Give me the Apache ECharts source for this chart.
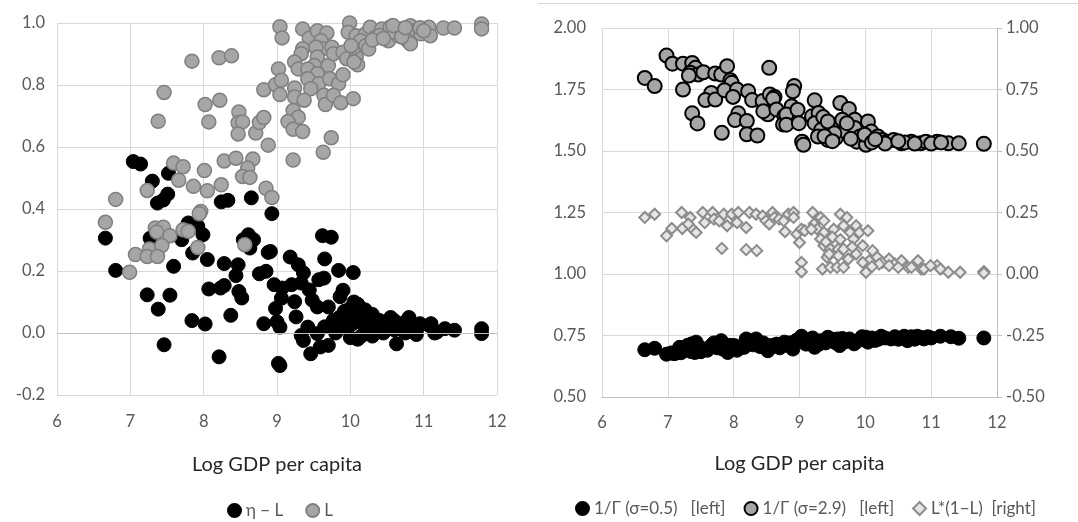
<!DOCTYPE html>
<html>
<head>
<meta charset="utf-8">
<script src="https://cdn.jsdelivr.net/npm/echarts@6/dist/echarts.min.js"></script>
<style>
html,body{margin:0;padding:0;background:#fff;}
#c{width:1078px;height:522px;}
</style>
</head>
<body>
<div id="c"></div>
<script>
// ---- Data (x = Log GDP per capita) ----
var xTicks = [6, 7, 8, 9, 10, 11, 12];
var leftTicks = ['-0.2', '0.0', '0.2', '0.4', '0.6', '0.8', '1.0'];

// Left panel: eta - L
var etaMinusL = [
[7.04,0.553],[7.14,0.545],[7.52,0.515],[7.30,0.49],[7.51,0.448],[7.45,0.429],[8.33,0.428],[8.65,0.436],
[7.37,0.419],[8.24,0.423],[8.93,0.385],[7.79,0.355],[7.92,0.344],[7.99,0.317],[7.70,0.301],[7.85,0.258],
[6.66,0.306],[7.27,0.306],[8.61,0.317],[8.68,0.301],[8.63,0.274],[8.54,0.301],[8.88,0.260],[8.05,0.237],
[8.28,0.224],[8.47,0.220],[8.44,0.185],[8.76,0.191],[8.85,0.199],[6.80,0.202],[7.59,0.215],[8.07,0.142],
[8.23,0.145],[8.28,0.153],[8.48,0.134],[8.52,0.113],[7.23,0.123],[7.54,0.122],[7.38,0.077],[8.37,0.057],
[7.84,0.040],[8.02,0.029],[8.82,0.030],[7.46,-0.038],[8.21,-0.077],
[9.62,0.314],[9.74,0.309],[8.91,0.263],[9.18,0.245],[9.29,0.220],[9.36,0.194],[9.65,0.239],[9.84,0.202],
[10.04,0.195],[9.57,0.172],[9.64,0.177],[8.96,0.156],[9.07,0.145],[9.20,0.156],[9.33,0.161],[9.44,0.139],
[9.90,0.138],[9.86,0.117],[9.06,0.112],[9.24,0.101],[9.48,0.106],[9.55,0.084],[9.70,0.084],[8.98,0.079],
[10.10,0.093],[9.26,0.052],[9.00,0.036],[9.04,0.019],[9.42,0.019],[9.33,-0.008],[9.36,-0.024],[9.55,-0.002],
[9.59,-0.045],[9.70,-0.040],[9.46,-0.067],[9.04,-0.105],[9.02,-0.098],
[9.77,0.041],[9.90,0.019],[10.03,0.030],[10.16,0.052],[10.25,0.009],[10.38,0.030],[10.52,0.041],[10.65,0.019],
[10.63,-0.035],[10.78,0.041],[10.91,0.014],[11.07,0.025],[11.18,0.003],[11.29,0.014],[11.42,0.009],[11.79,0.014],
[11.79,-0.002],[9.65,0.020],[9.80,0.000],[9.85,0.050],[9.95,0.060],[10.00,0.080],[10.05,0.100],[10.10,0.050],
[10.15,-0.010],[10.20,0.020],[10.25,0.040],[10.30,-0.010],[10.35,0.020],[10.40,0.040],[10.45,0.000],[10.50,0.020],
[10.55,0.050],[10.60,0.010],[10.70,0.030],[10.75,0.000],[10.80,0.050],[10.85,0.010],[10.90,-0.005],[11.10,0.030],
[11.15,0.000],[10.10,-0.020],[10.30,0.060],[10.00,-0.015],[9.92,0.070],[10.20,0.075],[10.60,0.040],[10.95,0.030]
];

// Left panel: L
var L = [
[7.84,0.877],[8.21,0.888],[8.38,0.894],[7.46,0.776],[8.82,0.785],[8.02,0.737],[8.22,0.751],[7.38,0.683],
[8.07,0.681],[8.48,0.713],[8.47,0.678],[8.53,0.681],[8.47,0.642],[8.71,0.645],[8.76,0.679],[8.82,0.695],
[8.88,0.606],[7.59,0.548],[7.72,0.536],[8.01,0.524],[8.28,0.555],[8.44,0.564],[8.67,0.561],[8.60,0.532],
[8.53,0.505],[8.63,0.502],[7.66,0.493],[7.86,0.473],[8.05,0.459],[8.24,0.478],[7.23,0.460],[6.80,0.431],
[8.85,0.467],[7.96,0.392],[7.94,0.385],[6.66,0.357],[7.34,0.339],[7.45,0.341],[7.36,0.326],[7.54,0.314],
[7.72,0.333],[7.79,0.328],[8.56,0.285],[7.92,0.276],[7.26,0.271],[7.43,0.282],[7.07,0.253],[7.23,0.247],
[7.37,0.247],[6.99,0.196],[8.93,0.437],
[9.04,0.988],[9.07,0.952],[9.35,0.981],[9.44,0.951],[9.55,0.975],[9.68,0.968],[9.60,0.943],[9.62,0.917],
[9.35,0.917],[9.33,0.901],[9.53,0.922],[9.55,0.890],[9.51,0.863],[9.70,0.863],[9.75,0.922],[9.77,0.901],
[9.24,0.874],[9.29,0.852],[9.42,0.852],[9.55,0.836],[9.42,0.820],[9.57,0.804],[9.46,0.788],[9.90,0.906],
[9.95,0.885],[10.08,0.891],[10.10,0.865],[9.72,0.820],[9.84,0.804],[9.90,0.833],[9.02,0.852],[8.98,0.801],
[9.06,0.815],[9.04,0.769],[9.24,0.790],[9.24,0.761],[9.37,0.751],[9.64,0.767],[9.66,0.737],[9.77,0.767],
[9.87,0.743],[10.04,0.756],[9.22,0.718],[9.29,0.696],[9.15,0.682],[9.22,0.657],[9.35,0.650],[9.74,0.630],
[9.63,0.583],[9.22,0.558],
[9.99,1.000],[9.97,0.970],[10.08,0.959],[10.21,0.965],[10.27,0.986],[10.34,0.954],[10.43,0.981],[10.54,0.986],
[10.52,0.943],[10.65,0.959],[10.69,0.981],[10.82,0.991],[10.87,0.975],[10.78,0.943],[10.82,0.933],[10.96,0.965],
[11.07,0.986],[11.09,0.959],[11.27,0.984],[11.42,0.984],[11.79,0.997],[11.79,0.981],[10.05,0.922],[10.14,0.943],
[10.21,0.927],[10.25,0.916],[10.05,0.874],[10.01,0.927],[10.40,0.960],[10.60,0.970],[10.30,0.945],[10.45,0.950],
[10.70,0.955],[10.95,0.985],[11.00,0.975],[10.58,0.992],[10.75,0.985]
];

// Right panel: 1/Gamma (sigma = 0.5), left axis
var invGamma05 = [
[6.65,0.692],[6.80,0.698],[6.98,0.674],[7.05,0.679],[7.18,0.702],[7.36,0.716],[7.43,0.723],[7.41,0.681],
[7.51,0.698],[7.66,0.709],[7.81,0.729],[7.83,0.695],[7.91,0.681],[8.01,0.709],[8.19,0.736],[8.16,0.702],
[8.34,0.736],[8.52,0.688],[8.57,0.709],[8.77,0.723],[8.90,0.695],[9.03,0.747],[9.08,0.725],[9.23,0.702],
[9.33,0.729],[9.43,0.743],[9.58,0.736],[9.61,0.709],[9.76,0.736],[9.83,0.716],[10.01,0.743],[10.04,0.723],
[10.24,0.747],[10.39,0.736],[10.59,0.747],[10.64,0.729],[10.79,0.747],[10.89,0.736],[11.14,0.747],[11.42,0.739],
[11.80,0.740],[7.25,0.690],[7.30,0.710],[7.60,0.690],[7.70,0.720],[7.95,0.710],[8.05,0.690],[8.25,0.720],
[8.40,0.705],[8.45,0.720],[8.65,0.715],[8.70,0.700],[8.85,0.720],[8.95,0.730],[9.15,0.730],[9.30,0.715],
[9.40,0.720],[9.50,0.735],[9.55,0.720],[9.70,0.725],[9.90,0.730],[9.95,0.745],[10.10,0.740],[10.15,0.730],
[10.30,0.740],[10.45,0.745],[10.50,0.735],[10.70,0.745],[10.75,0.735],[10.95,0.745],[11.00,0.740],[11.30,0.745],
[7.10,0.676],[7.20,0.680],[7.35,0.685],[7.50,0.684],[7.75,0.700],[8.10,0.700],[8.30,0.712],[8.55,0.700],
[8.80,0.710],[9.10,0.715],[9.20,0.740],[9.65,0.738],[10.20,0.735],[10.55,0.740],[10.85,0.742]
];

// Right panel: 1/Gamma (sigma = 2.9), left axis
var invGamma29 = [
[6.65,1.797],[6.80,1.764],[6.98,1.888],[7.07,1.855],[7.23,1.855],[7.37,1.858],[7.42,1.838],[7.34,1.818],
[7.46,1.811],[7.32,1.807],[7.54,1.820],[7.23,1.750],[7.37,1.653],[7.45,1.612],[7.72,1.815],[7.81,1.811],
[7.90,1.845],[7.95,1.788],[7.97,1.777],[7.66,1.736],[7.57,1.707],[7.72,1.709],[7.86,1.747],[8.05,1.750],
[7.99,1.720],[8.22,1.743],[8.28,1.707],[8.07,1.653],[8.02,1.626],[8.20,1.622],[7.82,1.574],[8.20,1.568],
[8.36,1.563],[8.54,1.838],[8.44,1.703],[8.55,1.730],[8.62,1.720],[8.60,1.712],[8.50,1.653],[8.52,1.649],
[8.45,1.662],[8.65,1.669],[8.77,1.642],[8.75,1.608],[8.92,1.764],[8.90,1.743],
[8.88,1.682],[8.80,1.648],[8.80,1.607],[8.97,1.668],[8.99,1.613],[9.04,1.538],[9.06,1.525],[9.23,1.706],
[9.19,1.641],[9.29,1.654],[9.23,1.613],[9.36,1.638],[9.33,1.586],[9.28,1.559],[9.48,1.607],[9.43,1.545],
[9.55,1.552],[9.60,1.600],[9.70,1.579],[9.62,1.695],[9.75,1.671],[9.84,1.627],[9.84,1.593],[9.92,1.559],
[9.87,1.538],[10.04,1.620],[10.09,1.579],[10.01,1.525],[10.19,1.559],[10.26,1.545],[10.33,1.538],[10.43,1.545],
[10.55,1.531],[10.70,1.538],[10.84,1.531],[10.92,1.538],[11.09,1.538],[11.26,1.531],[11.42,1.531],[11.80,1.529],
[9.43,1.620],[9.53,1.572],[9.65,1.627],[9.72,1.613],[9.99,1.566],[10.10,1.535],[10.30,1.530],[10.60,1.535],
[10.75,1.530],[11.00,1.530],[11.15,1.535],[9.38,1.560],[9.50,1.540],[9.78,1.550],[10.15,1.548],[10.50,1.540]
];

// Right panel: L*(1-L), right axis
var LtimesOneMinusL = [
[6.65,0.230],[6.80,0.243],[6.98,0.155],[7.06,0.185],[7.21,0.250],[7.22,0.185],[7.34,0.230],[7.38,0.182],
[7.43,0.169],[7.31,0.203],[7.53,0.250],[7.56,0.209],[7.68,0.250],[7.70,0.223],[7.78,0.216],[7.85,0.243],
[7.90,0.196],[7.97,0.243],[8.05,0.209],[8.07,0.250],[8.19,0.189],[8.24,0.250],[8.34,0.243],[7.82,0.104],
[8.19,0.099],[8.35,0.095],[8.44,0.236],[8.49,0.216],[8.54,0.203],[8.59,0.250],[8.62,0.230],[8.69,0.223],
[8.76,0.216],[8.83,0.243],[8.91,0.250],[8.91,0.230],[8.78,0.172],[8.96,0.162],[9.03,0.182],[9.08,0.176],
[9.00,0.128],[9.20,0.250],[9.32,0.230],[9.22,0.203],[9.27,0.182],[9.37,0.169],[9.32,0.142],[9.37,0.115],
[9.47,0.101],[9.42,0.068],[9.54,0.128],[9.59,0.101],[9.62,0.243],[9.72,0.230],[9.67,0.196],[9.77,0.169],
[9.82,0.142],[9.86,0.196],[9.91,0.169],[9.96,0.115],[10.04,0.176],[10.11,0.095],[10.18,0.068],[10.06,0.054],
[10.26,0.047],[10.36,0.061],[10.45,0.041],[10.55,0.054],[10.65,0.027],[10.80,0.054],[10.85,0.020],[11.09,0.034],
[11.26,0.007],[11.44,0.007],[9.03,0.047],[9.03,0.009],[9.35,0.020],[9.47,0.027],[9.57,0.027],[9.67,0.027],
[10.01,0.007],[11.80,0.010],[11.80,0.004],[9.18,0.182],[9.37,0.216],[9.52,0.182],[9.45,0.081],[9.59,0.074],
[9.67,0.101],[9.74,0.061],[9.86,0.081],[9.96,0.047],[10.21,0.040],[10.36,0.034],[10.50,0.027],[10.70,0.027],
[10.89,0.020],[10.99,0.034],[11.14,0.020],[9.50,0.150],[9.62,0.140],[9.40,0.130],[9.80,0.110],[10.10,0.030]
];

var seriesNames = ['η − L', 'L', '1/Γ (σ=0.5)   [left]', '1/Γ (σ=2.9)   [left]', 'L*(1−L)  [right]'];

var FONT = 'Lato, "Open Sans", sans-serif';
var labelStyle = {color: '#595959', fontSize: 16.5, fontFamily: FONT};
var gridLine = {show: true, lineStyle: {color: '#d9d9d9', width: 1}};

var chart = echarts.init(document.getElementById('c'), null, {renderer: 'canvas'});
chart.setOption({
  animation: false,
  backgroundColor: '#ffffff',
  graphic: [{
    type: 'line', silent: true,
    shape: {x1: 538, y1: 3.5, x2: 1078, y2: 3.5},
    style: {stroke: '#d9d9d9', lineWidth: 1}
  }],
  legend: [{
    left: 222, top: 497, itemWidth: 13, itemHeight: 13, itemGap: 22,
    textStyle: {color: '#595959', fontSize: 17, fontFamily: FONT},
    data: [seriesNames[0], seriesNames[1]]
  }, {
    left: 570, top: 495, itemWidth: 13, itemHeight: 13, itemGap: 18,
    textStyle: {color: '#595959', fontSize: 17, fontFamily: FONT},
    data: [seriesNames[2], seriesNames[3], seriesNames[4]]
  }],
  grid: [
    {left: 57, top: 23, width: 440, height: 372},
    {left: 602, top: 28, width: 395, height: 369}
  ],
  xAxis: [{
    gridIndex: 0, type: 'value', min: xTicks[0], max: xTicks[xTicks.length - 1], interval: 1,
    name: 'Log GDP per capita', nameLocation: 'middle', nameGap: 60,
    nameTextStyle: {color: '#262626', fontSize: 20, fontFamily: FONT},
    axisLine: {show: false}, axisTick: {show: false},
    axisLabel: Object.assign({margin: 18}, labelStyle),
    splitLine: gridLine
  }, {
    gridIndex: 1, type: 'value', min: xTicks[0], max: xTicks[xTicks.length - 1], interval: 1,
    name: 'Log GDP per capita', nameLocation: 'middle', nameGap: 57,
    nameTextStyle: {color: '#262626', fontSize: 20, fontFamily: FONT},
    axisLine: {show: true, onZero: false, lineStyle: {color: '#bfbfbf'}}, axisTick: {show: false},
    axisLabel: Object.assign({margin: 17}, labelStyle),
    splitLine: gridLine
  }],
  yAxis: [{
    gridIndex: 0, type: 'value', min: -0.2, max: 1.0, interval: 0.2,
    axisLine: {show: false}, axisTick: {show: false},
    axisLabel: Object.assign({margin: 12, formatter: function (v) { return v.toFixed(1); }}, labelStyle),
    splitLine: gridLine
  }, {
    gridIndex: 1, type: 'value', min: 0.5, max: 2.0, interval: 0.25,
    axisLine: {show: false}, axisTick: {show: false},
    axisLabel: Object.assign({margin: 16, formatter: function (v) { return v.toFixed(2); }}, labelStyle),
    splitLine: gridLine
  }, {
    gridIndex: 1, type: 'value', position: 'right', min: -0.5, max: 1.0, interval: 0.25,
    axisLine: {show: true, lineStyle: {color: '#bfbfbf'}},
    axisTick: {show: true, inside: false, length: 5, lineStyle: {color: '#bfbfbf'}},
    axisLabel: Object.assign({margin: 9, formatter: function (v) { return v.toFixed(2); }}, labelStyle),
    splitLine: {show: false}
  }],
  series: [{
    name: seriesNames[0], type: 'scatter', xAxisIndex: 0, yAxisIndex: 0,
    symbol: 'circle', symbolSize: 14,
    itemStyle: {color: '#000000', borderColor: '#000000', borderWidth: 1, opacity: 1},
    data: etaMinusL,
    markLine: {
      silent: true, symbol: 'none', label: {show: false},
      lineStyle: {color: '#bfbfbf', type: 'solid', width: 1},
      data: [{yAxis: 0}]
    }
  }, {
    name: seriesNames[1], type: 'scatter', xAxisIndex: 0, yAxisIndex: 0,
    symbol: 'circle', symbolSize: 14,
    itemStyle: {color: '#a6a6a6', borderColor: '#7f7f7f', borderWidth: 1.5, opacity: 1},
    data: L
  }, {
    name: seriesNames[2], type: 'scatter', xAxisIndex: 1, yAxisIndex: 1,
    symbol: 'circle', symbolSize: 14,
    itemStyle: {color: '#000000', borderColor: '#000000', borderWidth: 1, opacity: 1},
    data: invGamma05
  }, {
    name: seriesNames[3], type: 'scatter', xAxisIndex: 1, yAxisIndex: 1,
    symbol: 'circle', symbolSize: 14,
    itemStyle: {color: '#a6a6a6', borderColor: '#000000', borderWidth: 2, opacity: 1},
    data: invGamma29
  }, {
    name: seriesNames[4], type: 'scatter', xAxisIndex: 1, yAxisIndex: 2,
    symbol: 'diamond', symbolSize: 11,
    itemStyle: {color: '#e6e6e6', borderColor: '#8c8c8c', borderWidth: 2, opacity: 1},
    data: LtimesOneMinusL
  }]
});
</script>
</body>
</html>
